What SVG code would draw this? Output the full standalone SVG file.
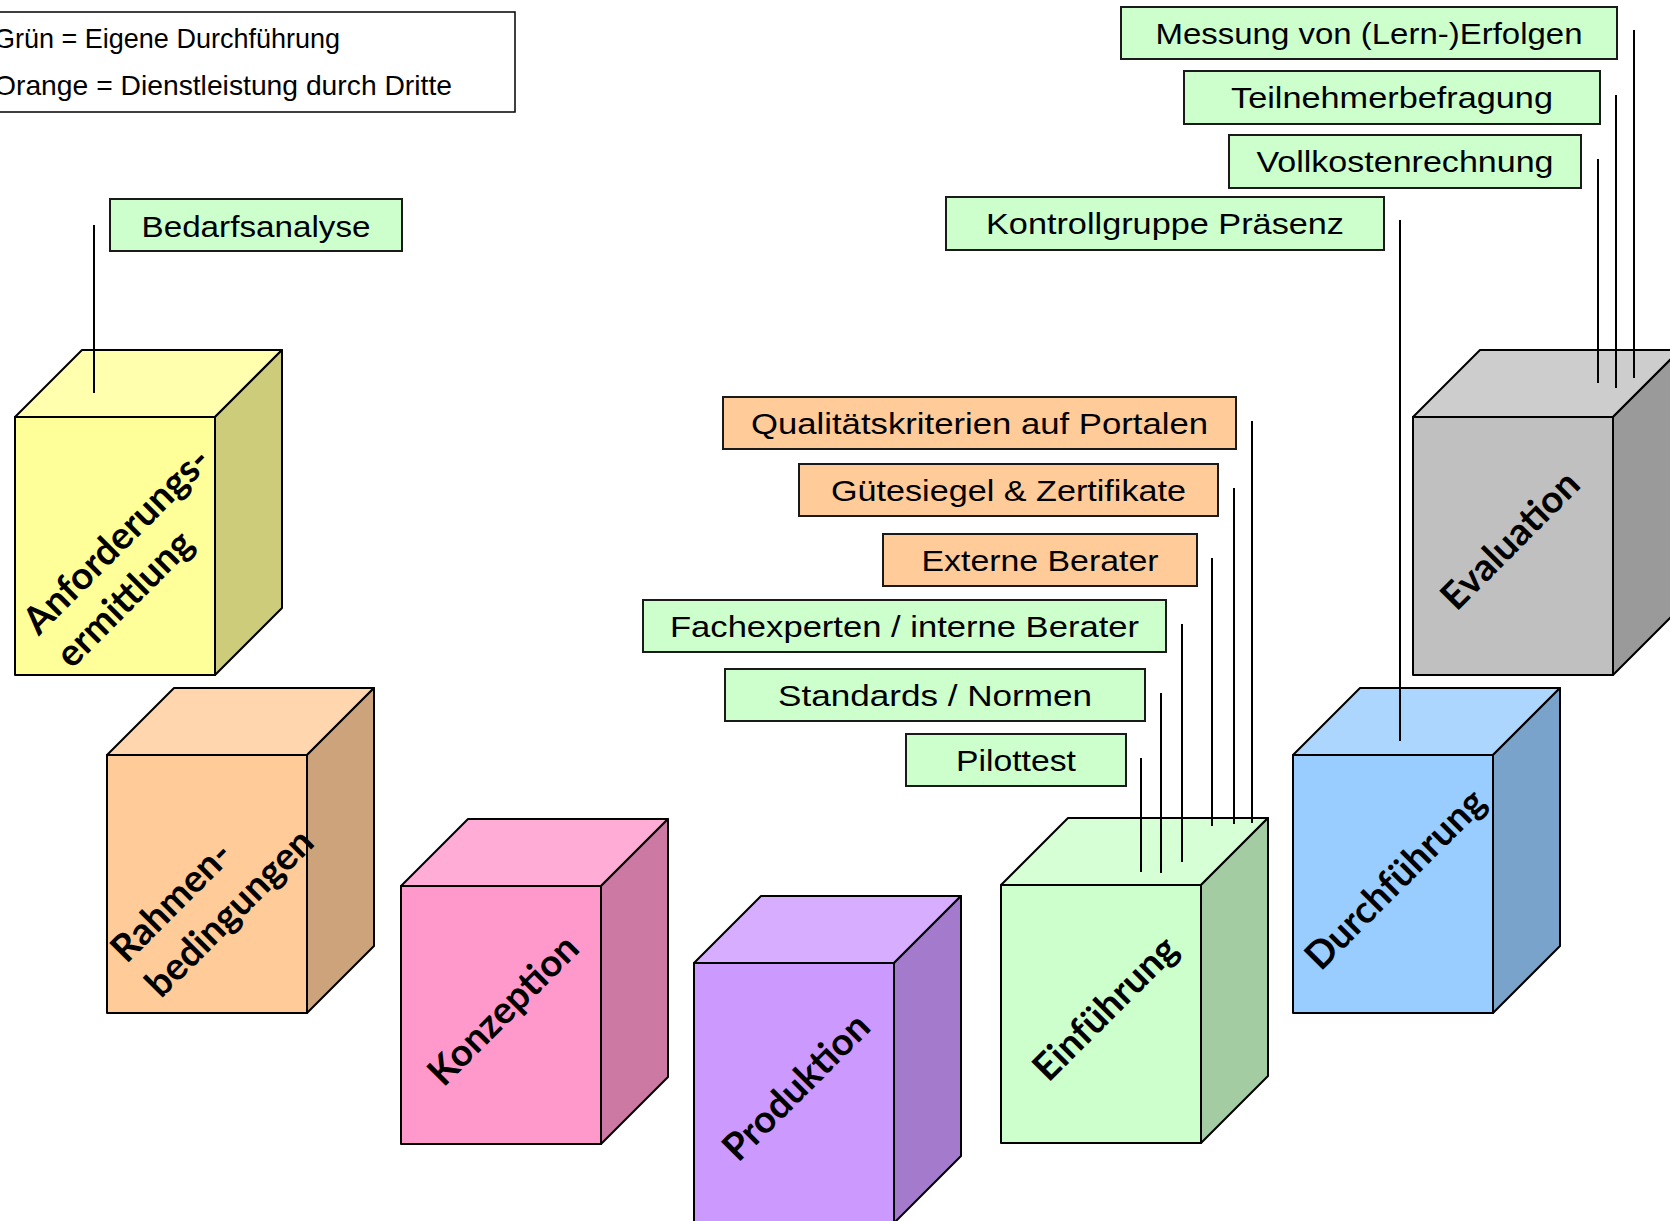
<svg xmlns="http://www.w3.org/2000/svg" width="1670" height="1221" viewBox="0 0 1670 1221">
<style>
.edge{stroke:#000;stroke-width:2;stroke-linejoin:round}
.lbl{stroke:#1a1a1a;stroke-width:2}
.g{fill:#CCFFCC}
.o{fill:#FFCC99}
.t{font-family:"Liberation Sans",Arial,sans-serif;font-size:30px;fill:#000;text-anchor:middle}
.leg{font-family:"Liberation Sans",Arial,sans-serif;font-size:28px;fill:#000}
.cube{font-family:Lato,"Open Sans",sans-serif;font-weight:bold;font-size:38px;fill:#000}
.conn line{stroke:#000;stroke-width:2}
</style>
<rect width="1670" height="1221" fill="#fff"/>
<g id="legend">
<rect x="-10" y="12" width="525" height="100" fill="#fff" stroke="#000" stroke-width="1.5"/>
<text class="leg" x="-6" y="48" textLength="346" lengthAdjust="spacingAndGlyphs">Grün = Eigene Durchführung</text>
<text class="leg" x="-6" y="95" textLength="458" lengthAdjust="spacingAndGlyphs">Orange = Dienstleistung durch Dritte</text>
</g>
<g id="cube-anforderung">
<rect class="edge" x="15" y="417" width="200" height="258" fill="#FFFF99"/>
<polygon class="edge" points="15,417 82,350 282,350 215,417" fill="#FFFFAD"/>
<polygon class="edge" points="215,417 282,350 282,608 215,675" fill="#CCCC7A"/>
<g class="cube" transform="translate(115,546) rotate(-45)">
<text x="-118" y="10">Anforderungs-</text>
<text x="-118" y="57">ermittlung</text>
</g>
</g>
<g id="cube-rahmen">
<rect class="edge" x="107" y="755" width="200" height="258" fill="#FFCC99"/>
<polygon class="edge" points="107,755 174,688 374,688 307,755" fill="#FFD6AD"/>
<polygon class="edge" points="307,755 374,688 374,946 307,1013" fill="#CCA37A"/>
<g class="cube" transform="translate(207,884) rotate(-45)">
<text x="-114" y="0">Rahmen-</text>
<text x="-114" y="49">bedingungen</text>
</g>
</g>
<g id="cube-konzeption">
<rect class="edge" x="401" y="886" width="200" height="258" fill="#FF99CC"/>
<polygon class="edge" points="401,886 468,819 668,819 601,886" fill="#FFADD6"/>
<polygon class="edge" points="601,886 668,819 668,1077 601,1144" fill="#CC7AA3"/>
<text class="cube" text-anchor="middle" transform="translate(501,1015) rotate(-45)" x="5" y="11">Konzeption</text>
</g>
<g id="cube-produktion">
<rect class="edge" x="694" y="963" width="200" height="270" fill="#CC99FF"/>
<polygon class="edge" points="694,963 761,896 961,896 894,963" fill="#D6ADFF"/>
<polygon class="edge" points="894,963 961,896 961,1156 894,1223" fill="#A37ACC"/>
<text class="cube" text-anchor="middle" transform="translate(794,1092) rotate(-45)" x="5" y="11">Produktion</text>
</g>
<g id="cube-einfuehrung">
<rect class="edge" x="1001" y="885" width="200" height="258" fill="#CCFFCC"/>
<polygon class="edge" points="1001,885 1068,818 1268,818 1201,885" fill="#D6FFD6"/>
<polygon class="edge" points="1201,885 1268,818 1268,1076 1201,1143" fill="#A3CCA3"/>
<text class="cube" text-anchor="middle" transform="translate(1101,1014) rotate(-45)" x="7" y="12">Einführung</text>
</g>
<g id="cube-durchfuehrung">
<rect class="edge" x="1293" y="755" width="200" height="258" fill="#99CCFF"/>
<polygon class="edge" points="1293,755 1360,688 1560,688 1493,755" fill="#ADD6FF"/>
<polygon class="edge" points="1493,755 1560,688 1560,946 1493,1013" fill="#7AA3CC"/>
<text class="cube" text-anchor="middle" transform="translate(1393,884) rotate(-45)" x="5" y="11">Durchführung</text>
</g>
<g id="cube-evaluation">
<rect class="edge" x="1413" y="417" width="200" height="258" fill="#C0C0C0"/>
<polygon class="edge" points="1413,417 1480,350 1680,350 1613,417" fill="#CDCDCD"/>
<polygon class="edge" points="1613,417 1680,350 1680,608 1613,675" fill="#9A9A9A"/>
<text class="cube" text-anchor="middle" transform="translate(1513,546) rotate(-45)" x="2" y="7">Evaluation</text>
</g>
<g id="connectors" class="conn">
<line x1="94" y1="225" x2="94" y2="393"/>
<line x1="1634" y1="30" x2="1634" y2="378"/>
<line x1="1616" y1="95" x2="1616" y2="388"/>
<line x1="1598" y1="159" x2="1598" y2="383"/>
<line x1="1400" y1="220" x2="1400" y2="741"/>
<line x1="1252" y1="421" x2="1252" y2="823"/>
<line x1="1234" y1="488" x2="1234" y2="824"/>
<line x1="1212" y1="558" x2="1212" y2="826"/>
<line x1="1182" y1="624" x2="1182" y2="862"/>
<line x1="1161" y1="693" x2="1161" y2="873"/>
<line x1="1141" y1="758" x2="1141" y2="872"/>
</g>
<g id="box-bedarfsanalyse"><rect class="lbl g" x="110" y="199" width="292" height="52"/><text class="t" x="256" y="237" textLength="229" lengthAdjust="spacingAndGlyphs">Bedarfsanalyse</text></g>
<g id="box-messung"><rect class="lbl g" x="1121" y="7" width="496" height="52"/><text class="t" x="1369" y="44" textLength="427" lengthAdjust="spacingAndGlyphs">Messung von (Lern-)Erfolgen</text></g>
<g id="box-teilnehmer"><rect class="lbl g" x="1184" y="71" width="416" height="53"/><text class="t" x="1392" y="108" textLength="322" lengthAdjust="spacingAndGlyphs">Teilnehmerbefragung</text></g>
<g id="box-vollkosten"><rect class="lbl g" x="1229" y="135" width="352" height="53"/><text class="t" x="1405" y="172" textLength="297" lengthAdjust="spacingAndGlyphs">Vollkostenrechnung</text></g>
<g id="box-kontrollgruppe"><rect class="lbl g" x="946" y="197" width="438" height="53"/><text class="t" x="1165" y="234" textLength="358" lengthAdjust="spacingAndGlyphs">Kontrollgruppe Präsenz</text></g>
<g id="box-qualitaet"><rect class="lbl o" x="723" y="397" width="513" height="52"/><text class="t" x="979.5" y="434" textLength="457" lengthAdjust="spacingAndGlyphs">Qualitätskriterien auf Portalen</text></g>
<g id="box-guetesiegel"><rect class="lbl o" x="799" y="464" width="419" height="52"/><text class="t" x="1008.5" y="501" textLength="355" lengthAdjust="spacingAndGlyphs">Gütesiegel &amp; Zertifikate</text></g>
<g id="box-externe"><rect class="lbl o" x="883" y="534" width="314" height="52"/><text class="t" x="1040" y="571" textLength="237" lengthAdjust="spacingAndGlyphs">Externe Berater</text></g>
<g id="box-fachexperten"><rect class="lbl g" x="643" y="600" width="523" height="52"/><text class="t" x="904.5" y="637" textLength="469" lengthAdjust="spacingAndGlyphs">Fachexperten / interne Berater</text></g>
<g id="box-standards"><rect class="lbl g" x="725" y="669" width="420" height="52"/><text class="t" x="935" y="706" textLength="314" lengthAdjust="spacingAndGlyphs">Standards / Normen</text></g>
<g id="box-pilottest"><rect class="lbl g" x="906" y="734" width="220" height="52"/><text class="t" x="1016" y="771" textLength="120" lengthAdjust="spacingAndGlyphs">Pilottest</text></g>
</svg>
